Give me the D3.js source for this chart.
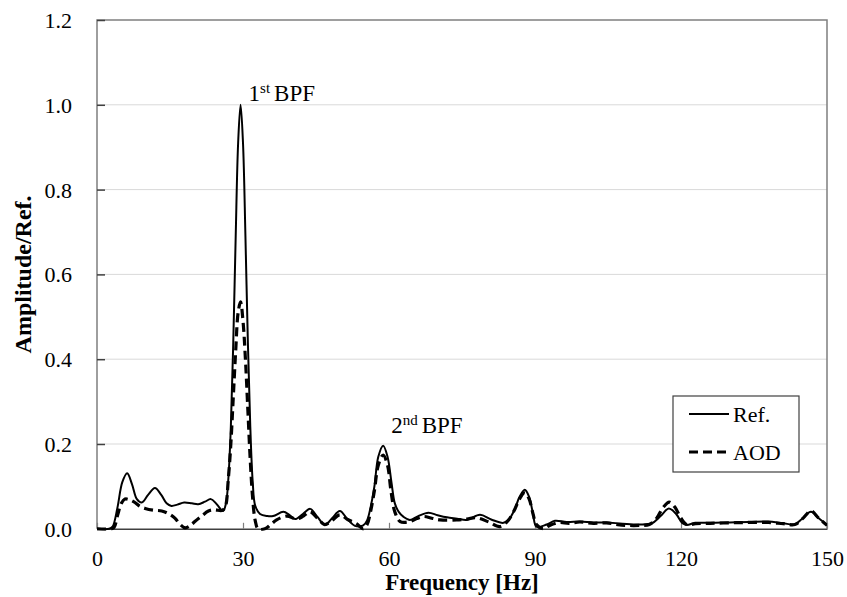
<!DOCTYPE html>
<html>
<head>
<meta charset="utf-8">
<script src="https://cdn.jsdelivr.net/npm/d3@7"></script>
<style>
  html, body { margin: 0; padding: 0; background: #fff; }
  svg { display: block; }
  svg text { font-family: "Liberation Serif", "Tinos", "Times New Roman", "DejaVu Serif", serif !important; fill: #000; }
</style>
</head>
<body>
<svg id="chart" width="847" height="597"></svg>
<script>
// Normalised spectrum: reference case (solid) and AOD case (dashed)
const refFreq = [0, 2.5, 3.2, 4.2, 5.2, 6.2, 7.2, 8.2, 9.2, 10.5, 11.9, 13.2, 14.3, 15.3, 16.5, 17.9, 19.5, 20.8, 22.2, 23.4, 24.6, 25.9,
  26.5, 27.0, 27.5, 28.0, 28.5, 29.0, 29.5, 30.0, 30.5, 31.0, 31.5, 32.0, 32.5, 33.5, 35, 36.2, 38.3, 39.5, 40.7, 42.3, 43.8, 45.3, 46.8,
  48.3, 49.9, 51.5, 53, 54.7, 55.5, 56.2, 57, 57.8, 58.8, 59.7, 60.5, 61.2, 62, 63, 64.3, 66, 68.1, 70, 71.9, 74, 76, 78.7, 81, 83.5,
  84.5, 85.8, 86.8, 87.9, 88.8, 89.6, 90.3, 92.4, 94.1, 96.5, 99.2, 102, 104.7, 108, 111.5, 114, 115.8, 117.5, 119, 120.3, 121.2,
  122.9, 126, 130, 134, 137.9, 141, 143.4, 145, 146.7, 148.3, 150];
const refAmp = [0, 0, 0.005, 0.05, 0.11, 0.131, 0.105, 0.07, 0.062, 0.08, 0.096, 0.08, 0.06, 0.054, 0.057, 0.062, 0.06, 0.058, 0.064, 0.07, 0.058, 0.042,
  0.06, 0.12, 0.24, 0.44, 0.69, 0.91, 1.0, 0.91, 0.69, 0.44, 0.24, 0.11, 0.055, 0.035, 0.03, 0.03, 0.04, 0.033, 0.023, 0.035, 0.047, 0.028, 0.009,
  0.025, 0.042, 0.022, 0.007, 0.008, 0.02, 0.05, 0.10, 0.17, 0.196, 0.17, 0.11, 0.06, 0.04, 0.028, 0.021, 0.03, 0.038, 0.032, 0.027, 0.024, 0.021, 0.033, 0.022, 0.014,
  0.02, 0.045, 0.075, 0.092, 0.075, 0.035, 0.005, 0.01, 0.019, 0.016, 0.017, 0.015, 0.015, 0.012, 0.01, 0.013, 0.03, 0.048, 0.035, 0.013, 0.009,
  0.014, 0.014, 0.015, 0.016, 0.017, 0.013, 0.011, 0.025, 0.04, 0.025, 0.009];

const aodFreq = [0, 3.0, 3.5, 4.3, 5.0, 5.75, 6.8, 7.8, 8.8, 9.9, 11.5, 13.3, 14.8, 16, 17.1, 18.1, 19, 20.1, 21.5, 22.9, 24.2, 25.6,
  26.3, 27.0, 27.5, 28.0, 28.5, 29.0, 29.5, 30.0, 30.5, 31.0, 31.5, 32.0, 32.5, 33.1, 34.5, 35.7, 36.9, 39, 41, 42.4, 43.8, 45.3, 46.8,
  48.3, 49.9, 51.5, 53.3, 54.7, 55.5, 56.2, 57, 57.8, 58.8, 59.7, 60.4, 61.2, 62.3, 64.3, 65.7, 67.1, 68.8, 70.5, 73.9, 76, 78, 80.5, 82.8,
  84.5, 85.8, 86.8, 87.9, 88.8, 89.6, 90.3, 91.7, 93, 95, 97, 99.2, 102, 104.7, 107, 109, 111.5, 113.5, 115, 116.3, 117.6, 118.8, 120, 121.2,
  123, 126, 130, 134, 137.9, 141, 143.4, 145, 146.7, 148.3, 150];
const aodAmp = [0, 0, 0.003, 0.035, 0.06, 0.07, 0.068, 0.062, 0.053, 0.048, 0.044, 0.042, 0.035, 0.025, 0.01, 0.002, 0.006, 0.017, 0.03, 0.042, 0.045, 0.043,
  0.05, 0.12, 0.2, 0.31, 0.42, 0.51, 0.535, 0.49, 0.40, 0.28, 0.16, 0.07, 0.02, 0, 0, 0.01, 0.021, 0.03, 0.023, 0.03, 0.04, 0.025, 0.01,
  0.02, 0.033, 0.022, 0.012, 0, 0.01, 0.04, 0.09, 0.15, 0.174, 0.15, 0.09, 0.04, 0.017, 0.017, 0.024, 0.029, 0.025, 0.021, 0.021, 0.023, 0.026, 0.016, 0.005,
  0.02, 0.045, 0.07, 0.085, 0.07, 0.035, 0.01, 0, 0.008, 0.015, 0.013, 0.016, 0.013, 0.014, 0.01, 0.008, 0.008, 0.01, 0.025, 0.05, 0.063, 0.05, 0.025, 0.01,
  0.012, 0.013, 0.014, 0.015, 0.015, 0.012, 0.01, 0.024, 0.042, 0.025, 0.008];

const xTicks = [0, 30, 60, 90, 120, 150];
const yTicks = [0, 0.2, 0.4, 0.6, 0.8, 1.0, 1.2];
const seriesNames = ["Ref.", "AOD"];
const peakLabels = [
  { order: "1", sup: "st", text: "BPF", f: 29.5, v: 1.0 },
  { order: "2", sup: "nd", text: "BPF", f: 58.8, v: 0.196 }
];

const serif = '"Liberation Serif", "Tinos", "Times New Roman", "DejaVu Serif", serif';
const svg = d3.select("#chart").attr("font-family", serif);
const margin = { left: 97, right: 20, top: 20, bottom: 68 };
const W = 847, H = 597;
const x = d3.scaleLinear().domain([0, 150]).range([margin.left, W - margin.right]);
const y = d3.scaleLinear().domain([0, 1.2]).range([H - margin.bottom - 0.2, margin.top]);

// horizontal grid
svg.append("g").selectAll("line").data(yTicks.filter(t => t > 0 && t < 1.2)).join("line")
  .attr("x1", x(0)).attr("x2", x(150))
  .attr("y1", d => y(d)).attr("y2", d => y(d))
  .attr("stroke", "#d9d9d9").attr("stroke-width", 1);

// frame (top / right / left)
svg.append("path")
  .attr("d", `M${x(0)},${y(0)}V${y(1.2)}H${x(150)}V${y(0)}`)
  .attr("fill", "none").attr("stroke", "#7f7f7f").attr("stroke-width", 1.5);

// y axis with inward ticks
const yAxis = d3.axisLeft(y).tickValues(yTicks).tickFormat(d3.format(".1f")).tickSizeInner(-8).tickSizeOuter(0).tickPadding(25);
const gy = svg.append("g").attr("transform", `translate(${x(0)},0)`).call(yAxis).attr("font-family", serif);
gy.select(".domain").remove();
gy.selectAll(".tick line").attr("stroke", "#404040").attr("stroke-width", 1.5);
gy.selectAll(".tick text").attr("font-size", 22).attr("fill", "#000").attr("dy", "0.34em");

// x axis with inward ticks
const xAxis = d3.axisBottom(x).tickValues(xTicks).tickFormat(d3.format("d")).tickSizeInner(-6).tickSizeOuter(0).tickPadding(22);
const gx = svg.append("g").attr("transform", `translate(0,${y(0)})`).call(xAxis).attr("font-family", serif);
gx.select(".domain").attr("stroke", "#404040").attr("stroke-width", 1.5);
gx.selectAll(".tick line").attr("stroke", "#7f7f7f").attr("stroke-width", 1.2);
gx.selectAll(".tick text").attr("font-size", 22).attr("fill", "#000");

// series
const line = d3.line().x(d => x(d[0])).y(d => y(d[1])).curve(d3.curveCatmullRom.alpha(0.5));
const refData = refFreq.map((f, i) => [f, refAmp[i]]);
const aodData = aodFreq.map((f, i) => [f, aodAmp[i]]);

svg.append("clipPath").attr("id", "plotclip").append("rect")
  .attr("x", x(0)).attr("y", y(1.2)).attr("width", x(150) - x(0)).attr("height", y(0) - y(1.2) + 2);

svg.append("path").datum(aodData).attr("d", line).attr("clip-path", "url(#plotclip)")
  .attr("fill", "none").attr("stroke", "#000").attr("stroke-width", 3.2)
  .attr("stroke-dasharray", "9,5");
svg.append("path").datum(refData).attr("d", line).attr("clip-path", "url(#plotclip)")
  .attr("fill", "none").attr("stroke", "#000").attr("stroke-width", 2);

// peak annotations
const ann = svg.append("g").selectAll("text").data(peakLabels).join("text")
  .attr("font-size", 23)
  .attr("x", d => x(d.f) + 8)
  .attr("y", (d, i) => y(d.v) - (i === 0 ? 4 : 13));
ann.append("tspan").text(d => d.order);
ann.append("tspan").attr("font-size", 15).attr("dy", -8).text(d => d.sup);
ann.append("tspan").attr("dy", 8).attr("dx", 4).text(d => d.text);

// axis titles
svg.append("text").attr("x", (x(0) + x(150)) / 2).attr("y", 590).attr("text-anchor", "middle")
  .attr("font-size", 23).attr("font-weight", "bold").text("Frequency [Hz]");
svg.append("text").attr("transform", `translate(31,${(y(0) + y(1.2)) / 2}) rotate(-90)`).attr("text-anchor", "middle")
  .attr("font-size", 24).attr("font-weight", "bold").text("Amplitude/Ref.");

// legend
const lg = svg.append("g");
lg.append("rect").attr("x", 673).attr("y", 396).attr("width", 126).attr("height", 76)
  .attr("fill", "#fff").attr("stroke", "#404040").attr("stroke-width", 1.2);
const lgRows = lg.selectAll("g").data(seriesNames).join("g")
  .attr("transform", (d, i) => `translate(0,${414 + i * 38})`);
lgRows.append("line").attr("x1", 689).attr("x2", 729).attr("y1", 0).attr("y2", 0)
  .attr("stroke", "#000").attr("stroke-width", (d, i) => i ? 3.2 : 2)
  .attr("stroke-dasharray", (d, i) => i ? "9,5" : null);
lgRows.append("text").attr("x", 733).attr("y", 8).attr("font-size", 22).text(d => d);
</script>
</body>
</html>
